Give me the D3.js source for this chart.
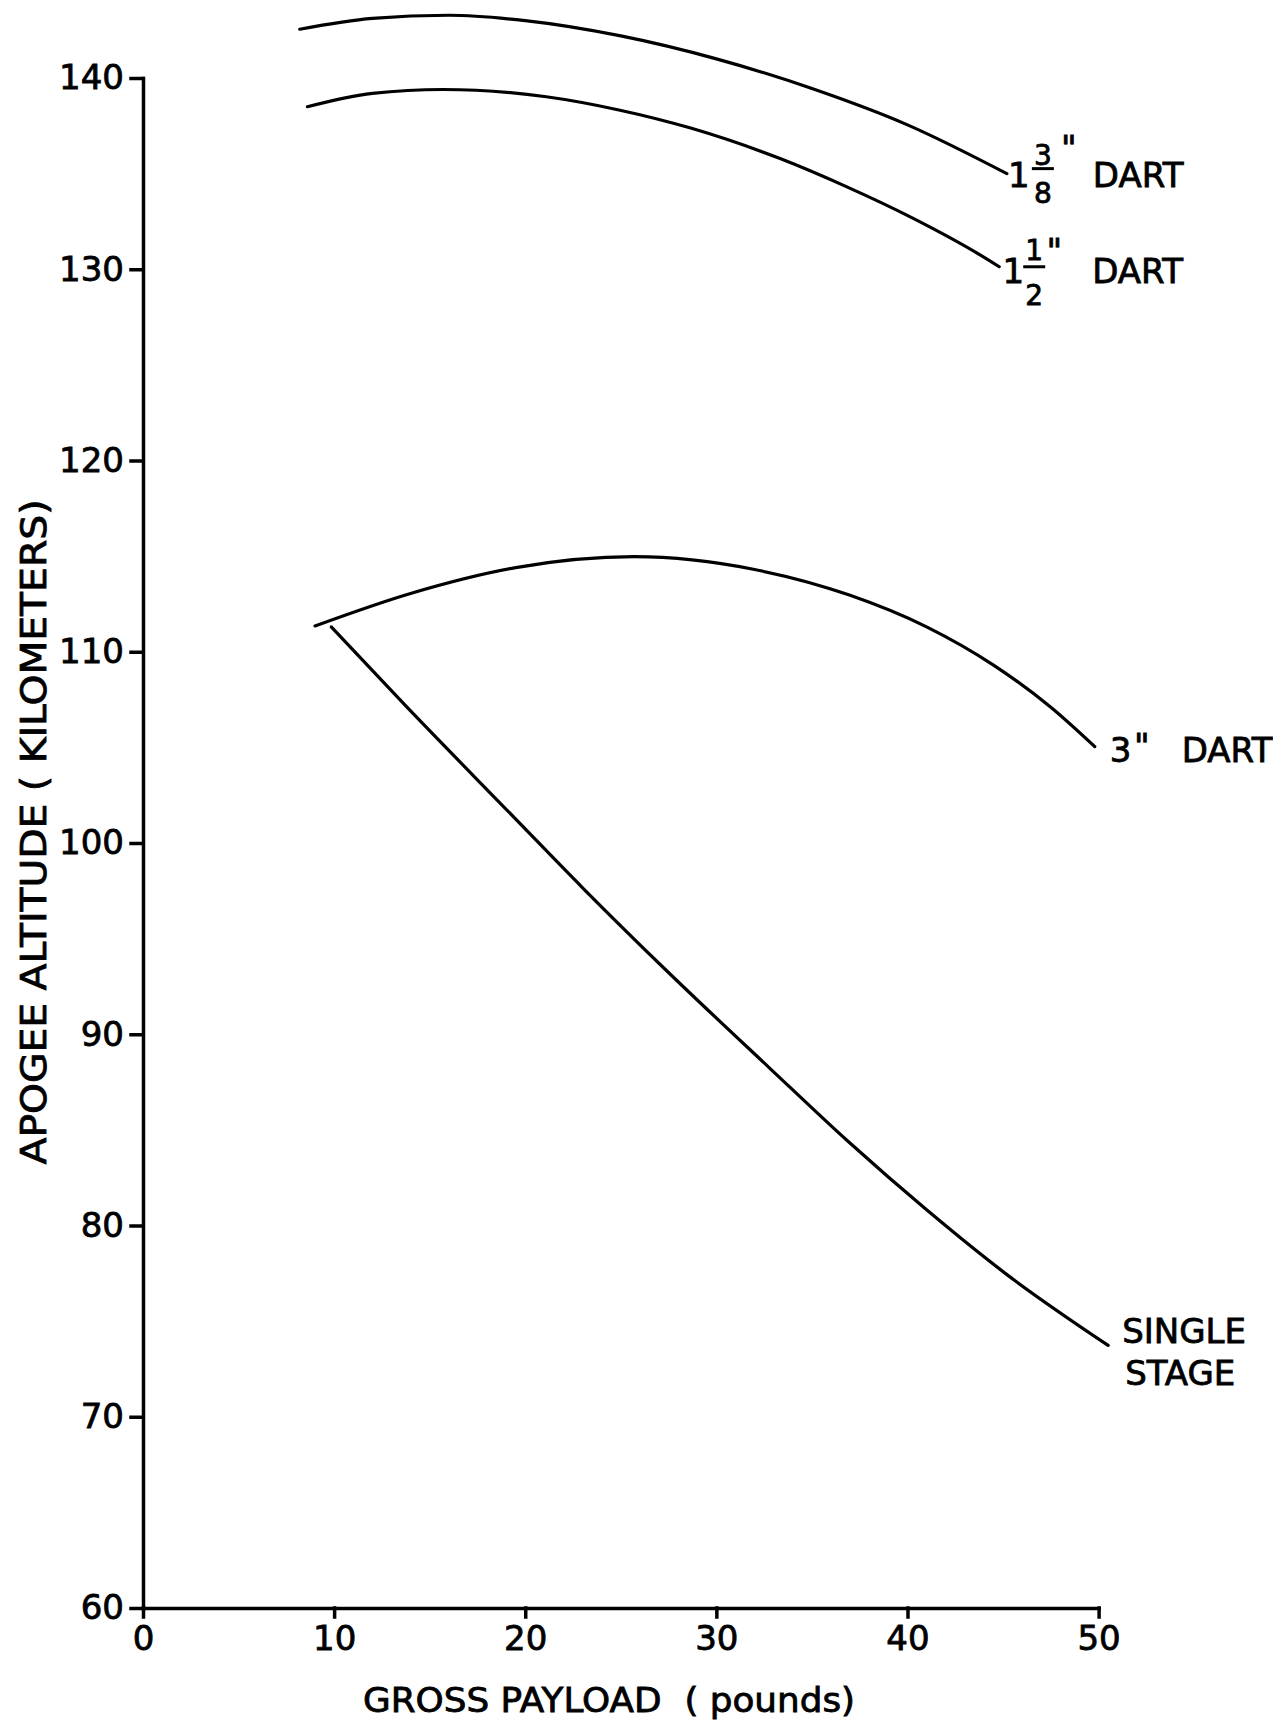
<!DOCTYPE html>
<html>
<head>
<meta charset="utf-8">
<script src="https://cdn.jsdelivr.net/npm/d3@7"></script>
<style>
  html, body { margin: 0; padding: 0; background: #fff; }
  svg { display: block; }
  text { font-family: 'DejaVu Sans', sans-serif; fill: #000; stroke: #000; stroke-width: 0.8px; }
</style>
</head>
<body>
<div id="chart"></div>
<script>
/* Axis ticks */
const payloadTicks = [0, 10, 20, 30, 40, 50];
const altitudeTicks = [60, 70, 80, 90, 100, 110, 120, 130, 140];

/* 1 3/8" dart */
const payloadDart138 = [8.2, 12.0, 16.0, 20.0, 25.0, 30.0, 35.0, 40.0, 45.2];
const altitudeDart138 = [142.55, 143.12, 143.28, 143.0, 142.2, 141.0, 139.45, 137.55, 135.0];

/* 1 1/2" dart */
const payloadDart112 = [8.6, 12.0, 15.7, 21.1, 24.9, 28.7, 33.3, 36.8, 40.3, 43.8, 44.8];
const altitudeDart112 = [138.5, 139.2, 139.4, 139.02, 138.33, 137.37, 135.8, 134.32, 132.66, 130.75, 130.13];

/* 3" dart */
const payloadDart3 = [9.0, 14.0, 19.5, 25.7, 32.0, 37.0, 41.0, 44.5, 47.5, 49.8];
const altitudeDart3 = [111.35, 113.05, 114.4, 114.97, 114.3, 112.95, 111.3, 109.3, 107.1, 105.04];

/* Single stage */
const payloadSingle = [9.85, 13.7, 19.15, 23.0, 27.4, 32.8, 36.9, 41.0, 45.1, 50.5];
const altitudeSingle = [111.3, 107.22, 101.61, 97.66, 93.32, 88.22, 84.39, 80.82, 77.51, 73.73];

const width = 1273;
const height = 1720;

let svgD3 = d3.select('#chart')
    .append('svg')
    .attr('width', width)
    .attr('height', height)
    .style('background', '#fff');

let xScale = d3.scaleLinear()
    .domain([0, 50])
    .range([143, 1098.6]);

let yScale = d3.scaleLinear()
    .domain([60, 140])
    .range([1608, 78]);

/* X Axis */
let xAxisD3 = svgD3.append('g')
    .attr('class', 'x-axis')
    .attr('transform', `translate(0, ${yScale(60)})`)
    .call(d3.axisBottom(xScale)
        .tickValues(payloadTicks)
        .tickSize(9)
        .tickSizeOuter(0)
        .tickPadding(9));

/* Y Axis */
let yAxisD3 = svgD3.append('g')
    .attr('class', 'y-axis')
    .attr('transform', `translate(${xScale(0)}, 0)`)
    .call(d3.axisLeft(yScale)
        .tickValues(altitudeTicks)
        .tickSize(12)
        .tickSizeOuter(0)
        .tickPadding(7));

for (let axisD3 of [xAxisD3, yAxisD3]) {
  axisD3.selectAll('.domain, .tick line')
      .attr('stroke', '#000')
      .attr('stroke-width', 3.5)
      .attr('stroke-linecap', 'square');
  axisD3.selectAll('.tick text')
      .attr('font-family', "'DejaVu Sans', sans-serif")
      .attr('font-size', 34)
      .attr('fill', '#000');
}

/* Axis titles */
svgD3.append('text')
    .attr('x', 609)
    .attr('y', 1712)
    .attr('text-anchor', 'middle')
    .attr('font-size', 33)
    .attr('textLength', 492)
    .attr('lengthAdjust', 'spacingAndGlyphs')
    .style('white-space', 'pre')
    .text('GROSS PAYLOAD  ( pounds)');

svgD3.append('text')
    .attr('transform', 'translate(46, 832) rotate(-90)')
    .attr('text-anchor', 'middle')
    .attr('font-size', 35)
    .attr('textLength', 665)
    .attr('lengthAdjust', 'spacingAndGlyphs')
    .style('white-space', 'pre')
    .text('APOGEE ALTITUDE ( KILOMETERS)');

/* Curves */
let series = [
  {xs: payloadDart138, ys: altitudeDart138},
  {xs: payloadDart112, ys: altitudeDart112},
  {xs: payloadDart3, ys: altitudeDart3},
  {xs: payloadSingle, ys: altitudeSingle},
];

let lineGen = d3.line()
    .x(d => xScale(d[0]))
    .y(d => yScale(d[1]))
    .curve(d3.curveMonotoneX);

let dataContainerD3 = svgD3.append('g')
    .attr('class', 'data-container-group');

dataContainerD3.selectAll('path')
    .data(series)
    .join('path')
    .attr('d', s => lineGen(d3.zip(s.xs, s.ys)))
    .attr('fill', 'none')
    .attr('stroke', '#000')
    .attr('stroke-width', 3.2)
    .attr('stroke-linecap', 'round');

/**
 * End point of a series in pixels.
 */
function endPoint(s) {
  let n = s.xs.length - 1;
  return [xScale(s.xs[n]), yScale(s.ys[n])];
}

/* Labels, offsets are relative to the curve end */
let labelD3 = svgD3.append('g')
    .attr('class', 'labels');

function addText(x, y, str, size, anchor) {
  labelD3.append('text')
      .attr('x', x)
      .attr('y', y)
      .attr('font-size', size)
      .attr('text-anchor', anchor || 'start')
      .text(str);
}

/**
 * Mixed number label like 1 3/8" DART.
 */
function addFractionLabel(s, num, den, o) {
  let [ex, ey] = endPoint(s);
  addText(ex + o.whole, ey + o.base, '1', 34, 'middle');
  addText(ex + o.frac, ey + o.num, num, 28, 'middle');
  labelD3.append('line')
      .attr('x1', ex + o.frac - 11)
      .attr('x2', ex + o.frac + 11)
      .attr('y1', ey + o.bar)
      .attr('y2', ey + o.bar)
      .attr('stroke', '#000')
      .attr('stroke-width', 3);
  addText(ex + o.frac, ey + o.den, den, 28, 'middle');
  addText(ex + o.quote, ey + o.quoteY, '"', 34, 'middle');
  addText(ex + o.name, ey + o.base, 'DART', 34);
}

addFractionLabel(series[0], '3', '8',
    {whole: 12, frac: 36, num: -9, bar: -5, den: 29, quote: 62, quoteY: -14, name: 86, base: 13});
addFractionLabel(series[1], '1', '2',
    {whole: 14, frac: 35, num: -7, bar: 0, den: 38, quote: 55, quoteY: -4, name: 93, base: 16});

let [e3x, e3y] = endPoint(series[2]);
addText(e3x + 15, e3y + 15, '3', 34);
addText(e3x + 47, e3y + 11, '"', 34, 'middle');
addText(e3x + 87, e3y + 15, 'DART', 34);

let [esx, esy] = endPoint(series[3]);
addText(esx + 14, esy - 2, 'SINGLE', 34);
addText(esx + 17, esy + 40, 'STAGE', 34);
</script>
</body>
</html>
